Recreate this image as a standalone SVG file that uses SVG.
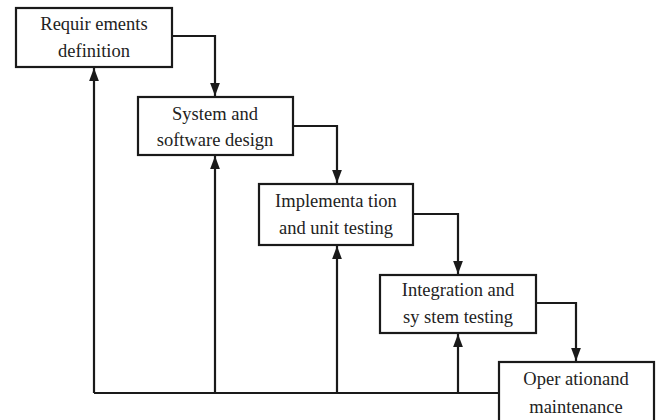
<svg xmlns="http://www.w3.org/2000/svg" width="661" height="420" viewBox="0 0 661 420">
<style>
.box{fill:#fff;stroke:#1a1a1a;stroke-width:2.2}
.lbl{font-family:"Liberation Serif","Times New Roman",serif;font-size:18.5px;fill:#222;text-anchor:middle}
.con{fill:none;stroke:#1a1a1a;stroke-width:2.2}
</style>
<defs>
<marker id="ah" viewBox="0 0 10 10" refX="10" refY="5" markerWidth="6" markerHeight="4.5" orient="auto" markerUnits="strokeWidth" preserveAspectRatio="none">
<path d="M0,0 L10,5 L0,10 z" fill="#1a1a1a"/>
</marker>
</defs>
<rect width="661" height="420" fill="#fff"/>
<g id="connectors">
<path class="con" d="M172,36 H215 V96" marker-end="url(#ah)"/>
<path class="con" d="M293,126 H337 V183" marker-end="url(#ah)"/>
<path class="con" d="M413,214 H458 V274" marker-end="url(#ah)"/>
<path class="con" d="M536,303 H576 V361" marker-end="url(#ah)"/>
<path class="con" d="M499,393 H94"/>
<path class="con" d="M94,393 V68" marker-end="url(#ah)"/>
<path class="con" d="M215,393 V156" marker-end="url(#ah)"/>
<path class="con" d="M337,393 V246" marker-end="url(#ah)"/>
<path class="con" d="M458,393 V334" marker-end="url(#ah)"/>
</g>
<g id="n1">
<rect class="box" x="16" y="8" width="156" height="59"/>
<text class="lbl" x="94" y="30">Requir ements</text>
<text class="lbl" x="94" y="57">definition</text>
</g>
<g id="n2">
<rect class="box" x="138" y="97" width="155" height="58"/>
<text class="lbl" x="215" y="120">System and</text>
<text class="lbl" x="215" y="146">software design</text>
</g>
<g id="n3">
<rect class="box" x="259" y="184" width="154" height="61"/>
<text class="lbl" x="336" y="207">Implementa tion</text>
<text class="lbl" x="336" y="234">and unit testing</text>
</g>
<g id="n4">
<rect class="box" x="380" y="275" width="156" height="58"/>
<text class="lbl" x="458" y="296">Integration and</text>
<text class="lbl" x="458" y="323">sy stem testing</text>
</g>
<g id="n5">
<rect class="box" x="499" y="362" width="155" height="62"/>
<text class="lbl" x="576" y="385">Oper ationand</text>
<text class="lbl" x="576" y="413">maintenance</text>
</g>
</svg>
